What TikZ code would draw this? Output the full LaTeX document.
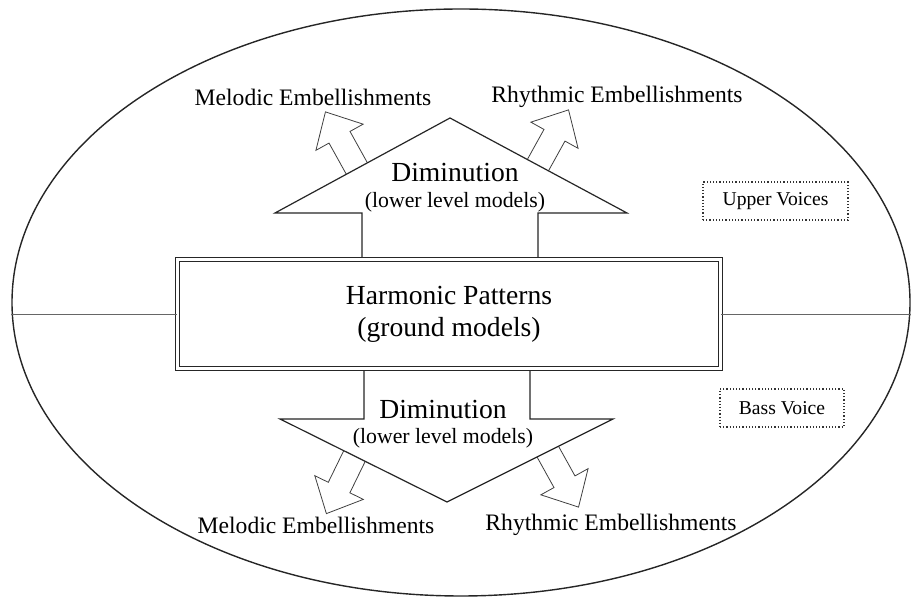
\documentclass[tikz,border=0pt]{standalone}
\usepackage{fontspec}
\setmainfont{Liberation Serif}
\usepackage{tikz}
\usetikzlibrary{shapes.geometric, positioning}

\tikzset{
    embarrow/.pic={
        \draw[fill=white, draw=black!75, line width=0.4pt]
            (-25,-12) -- (34,-12) -- (34,-27) -- (63,0) -- (34,27) -- (34,12) -- (-25,12) -- cycle;
    }
}

\begin{document}
\begin{tikzpicture}[
        x=0.5pt, y=-0.5pt,
        outline/.style={ellipse, draw=black!85, line width=0.7pt, minimum width=449pt, minimum height=293.5pt, inner sep=0pt},
        groundbox/.style={rectangle, draw=black!85, double, double distance=1.4pt, line width=0.5pt, minimum width=271.5pt, minimum height=54.6pt, align=center, font=\fontsize{13.8}{16}\selectfont},
        bigarrow/.style={draw=black!85, line width=0.6pt, fill=white},
        dimtitle/.style={font=\fontsize{13.8}{16}\selectfont, inner sep=1pt},
        dimsub/.style={font=\fontsize{10.9}{13}\selectfont, inner sep=1pt},
        emb/.style={font=\fontsize{11.8}{14}\selectfont, inner sep=1pt},
        voice/.style={rectangle, draw=black!80, densely dotted, line width=0.6pt, minimum height=19pt, font=\fontsize{9.8}{12}\selectfont},
        axisline/.style={draw=black!60, line width=0.4pt}
    ]

    \useasboundingbox (0,0) rectangle (911,597);

    \node (oval) [outline] at (461,302.5) {};

    % hollow arrows towards the embellishments
    \pic [shift={(356,167)}, rotate=119] {embarrow};
    \pic [shift={(538,165)}, rotate=61] {embarrow};
    \pic [shift={(354,457)}, rotate=-116] {embarrow};
    \pic [shift={(548,452)}, rotate=-61] {embarrow};

    % diminution arrows
    \draw [bigarrow] (362,257) -- (362,213) -- (275,213) -- (450,118) -- (627,213) -- (538,213) -- (538,257);
    \draw [bigarrow] (364,371) -- (364,419) -- (280,419) -- (447,502) -- (613,419) -- (530,419) -- (530,371);

    \node (core) [groundbox] at (449,314) {Harmonic Patterns\\(ground models)};

    \draw [axisline] (oval.west |- core.west) -- (core.west);
    \draw [axisline] (core.east) -- (oval.east |- core.east);

    \node (dimUp) [dimtitle] at (455,173) {Diminution};
    \node (dimUpSub) [dimsub] at (455,202) {(lower level models)};
    \node (dimDown) [dimtitle] at (443,410) {Diminution};
    \node (dimDownSub) [dimsub] at (443,438) {(lower level models)};

    \node (melUp) [emb] at (313,97) {Melodic Embellishments};
    \node (rhyUp) [emb] at (617,97) {Rhythmic Embellishments};
    \node (melDown) [emb] at (316,525) {Melodic Embellishments};
    \node (rhyDown) [emb] at (611,525) {Rhythmic Embellishments};

    \node (upper) [voice, minimum width=72.5pt] at (775.5,201) {Upper Voices};
    \node (bass) [voice, minimum width=62pt] at (782,408) {Bass Voice};

\end{tikzpicture}
\end{document}
